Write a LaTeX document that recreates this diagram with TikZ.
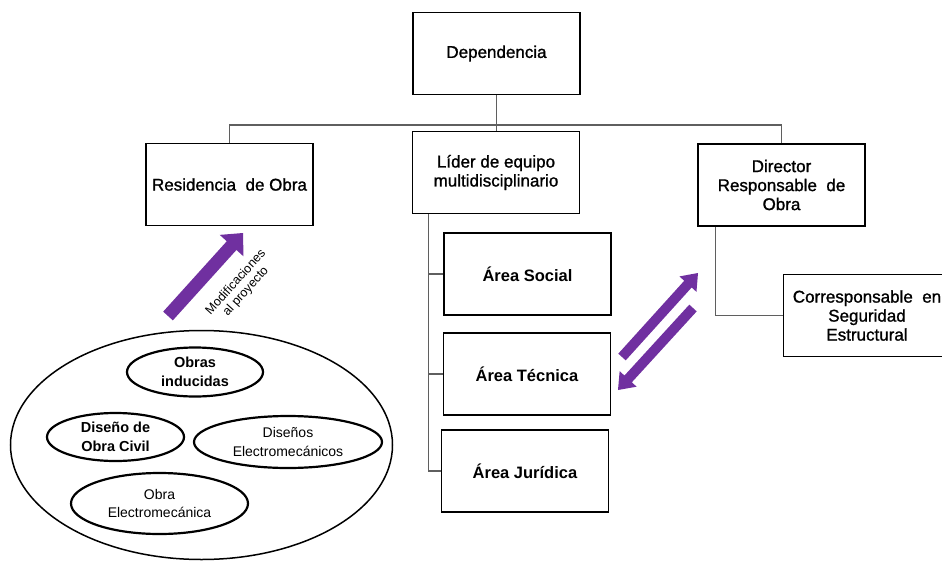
\documentclass[tikz,border=0pt]{standalone}
\usepackage{fontspec}
\setmainfont{Liberation Sans}
\newfontfamily\medfont{Liberation Sans}[FakeBold=1.2]
\usetikzlibrary{shapes.geometric,calc}
\definecolor{purp}{RGB}{112,48,160}
\definecolor{conn}{RGB}{95,95,95}
% #1 name, #2 tail, #3 tip, #4 half shaft width, #5 half head width, #6 head length
\newcommand\purparrow[6]{%
  \coordinate (#1-b) at ($(#3)!#6!(#2)$);
  \fill[purp] ($(#2)!#4!90:(#3)$) -- ($(#1-b)!#4!90:(#3)$) -- ($(#1-b)!#5!90:(#3)$)
    -- (#3) -- ($(#1-b)!#5!-90:(#3)$) -- ($(#1-b)!#4!-90:(#3)$) -- ($(#2)!#4!-90:(#3)$) -- cycle;
}
\begin{document}
\begin{tikzpicture}[x=1pt,y=-1pt,
  box/.style={draw=black, line width=1.6pt, rectangle, minimum width=167pt, minimum height=82pt,
    align=center, inner sep=2pt, font=\medfont\fontsize{17}{19}\selectfont},
  areabox/.style={box, font=\fontsize{16.5}{19}\selectfont\bfseries},
  ell/.style={draw=black, line width=2.2pt, ellipse, inner sep=0pt, align=center,
    font=\fontsize{14}{18.5}\selectfont},
  ellb/.style={ell, font=\fontsize{14.5}{18.5}\selectfont\bfseries},
  link/.style={draw=conn, line width=1.3pt}]
\useasboundingbox (0,0) rectangle (942,562);

% boxes
\node[box] (dep) at (496.5,53.5) {Dependencia};
\node[box] (res) at (229.5,184.5) {Residencia~~de Obra};
\node[box] (lid) at (496,172.5) {Líder de equipo\\multidisciplinario};
\node[box] (dir) at (781.5,185) {Director\\Responsable~~de\\Obra};
\node[box] (cor) at (867,315.5) {Corresponsable~~en\\Seguridad\\Estructural};
\node[areabox] (soc) at (527.5,274) {Área Social};
\node[areabox] (tec) at (527,374) {Área Técnica};
\node[areabox] (jur) at (525,471) {Área Jurídica};

% connectors
\coordinate (bus) at (496,125);
\draw[link] (res.north) |- (bus) -| (dir.north);
\draw[link] (dep.south) -- (dep.south |- lid.north);
\coordinate (lt) at ($(lid.south west)+(17,0)$);
\draw[link] (lt) |- (soc.west);
\draw[link] (lt) |- (tec.west);
\draw[link] (lt) |- (jur.west);
\coordinate (dt) at ($(dir.south west)+(18,0)$);
\draw[link] (dt) |- (cor.west);

% ellipse group
\node[draw=black, line width=1.5pt, ellipse, minimum width=382pt, minimum height=229pt, inner sep=0pt] (grp) at (201.5,445) {};
\node[ellb, minimum width=136pt, minimum height=49pt] (obi) at (195,372) {Obras\\inducidas};
\node[ellb, minimum width=137pt, minimum height=48pt] (doc) at (115.5,437) {Diseño de\\Obra Civil};
\node[ell, minimum width=188pt, minimum height=52pt] (dem) at (288,442) {Diseños\\Electromecánicos};
\node[ell, minimum width=177pt, minimum height=61pt] (oem) at (159.5,503.5) {Obra\\Electromecánica};

% purple arrows
\coordinate (a1t) at (168,316);
\coordinate (a1p) at (243,233);
\purparrow{a1}{a1t}{a1p}{6.5pt}{16pt}{17pt}
\node[rotate=48, align=center, inner sep=0pt, font=\fontsize{12.5}{13.5}\selectfont] (mod) at (241,287) {Modificaciones\\al proyecto};

\coordinate (a2t) at (622,357);
\coordinate (a2p) at (698,273);
\purparrow{a2}{a2t}{a2p}{5pt}{11.5pt}{15pt}
\coordinate (a3t) at (693,308);
\coordinate (a3p) at (618,390);
\purparrow{a3}{a3t}{a3p}{5pt}{11.5pt}{15pt}
\end{tikzpicture}
\end{document}
